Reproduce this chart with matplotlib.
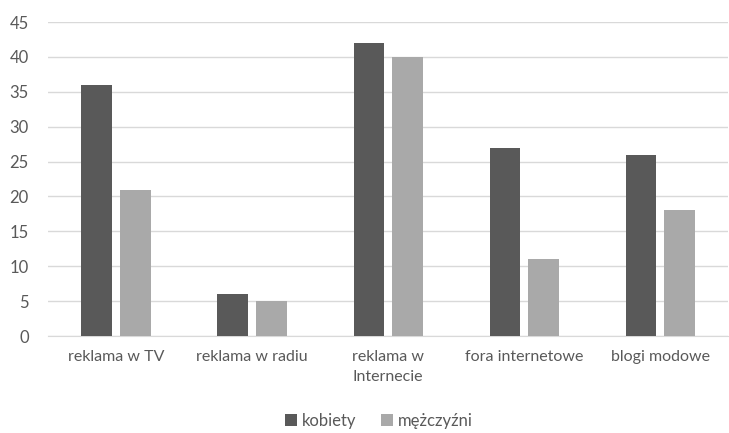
import matplotlib
matplotlib.use("Agg")
import matplotlib.pyplot as plt
import numpy as np

categories = ["reklama w TV", "reklama w radiu", "reklama w\nInternecie",
              "fora internetowe", "blogi modowe"]
kobiety = [36, 6, 42, 27, 26]
mezczyzni = [21, 5, 40, 11, 18]
y_ticks = [0, 5, 10, 15, 20, 25, 30, 35, 40, 45]

plt.rcParams['font.family'] = ['Lato', 'DejaVu Sans']
text_color = '#595959'

fig = plt.figure(figsize=(7.29, 4.33), dpi=100)
ax = fig.add_axes([0.066, 0.224, 0.933, 0.725])

x = np.arange(len(categories))
width = 0.225
gap = 0.03
ax.bar(x - width / 2 - gap, kobiety, width, color='#595959', label='kobiety', zorder=3)
ax.bar(x + width / 2 + gap, mezczyzni, width, color='#A9A9A9', label='mężczyźni', zorder=3)

ax.set_xlim(-0.5, len(categories) - 0.5)
ax.set_ylim(0, 45)
ax.set_yticks(y_ticks)
ax.set_xticks(x)
ax.set_xticklabels(categories, fontsize=11.5, color=text_color, linespacing=1.6)
ax.tick_params(axis='y', labelsize=12, labelcolor=text_color, length=0, pad=14)
ax.tick_params(axis='x', length=0, pad=10)

ax.grid(axis='y', color='#D9D9D9', linewidth=1, zorder=0)
for side in ['top', 'right', 'left']:
    ax.spines[side].set_visible(False)
ax.spines['bottom'].set_color('#D9D9D9')

fig.legend(loc='lower center', bbox_to_anchor=(0.52, -0.025), ncol=2, frameon=False,
           fontsize=12, labelcolor=text_color, handlelength=0.7, handleheight=0.7,
           handletextpad=0.3, columnspacing=1.5)

fig.savefig("out.png", dpi=100)
